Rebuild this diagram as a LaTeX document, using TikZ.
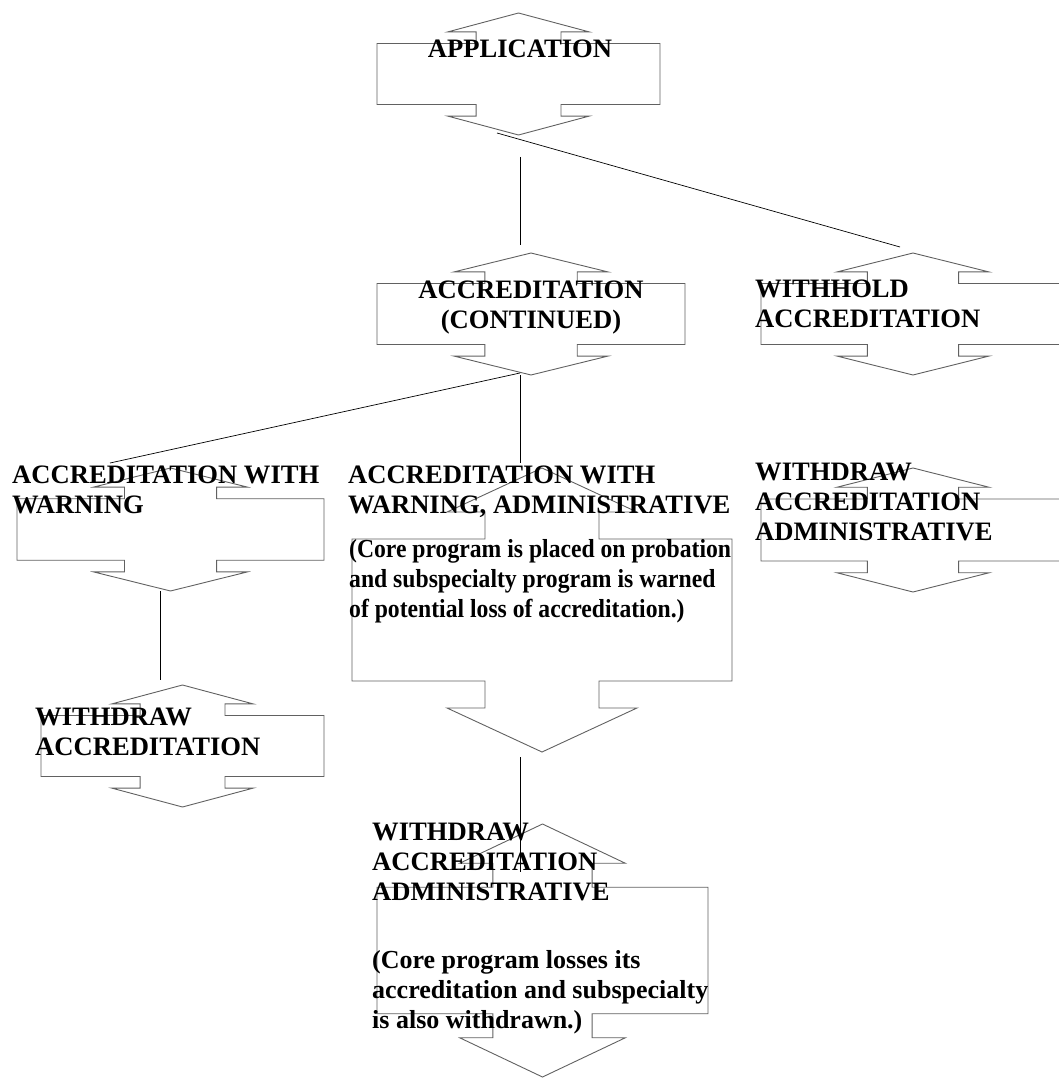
\documentclass[tikz,border=0pt]{standalone}
\usepackage{fontspec}
\setmainfont{Liberation Serif}
\newfontfamily\narrowserif[FakeStretch=0.91]{Liberation Serif}

\begin{document}
\begin{tikzpicture}[x=1pt,y=-1pt]

\definecolor{boxgray}{rgb}{0.38,0.38,0.38}

\tikzset{boxline/.style={draw=boxgray, line width=0.9pt, line join=miter}}
\tikzset{link/.style={draw=black, line width=0.7pt}}
\tikzset{lbl/.style={inner sep=0pt, font=\bfseries\fontsize{26.6}{30}\selectfont}}
\tikzset{note/.style={inner sep=0pt, align=left, font=\bfseries\fontsize{26}{30}\selectfont}}

% up-down arrow box: name, centre x, top y, total height, half width
\def\udbox#1#2#3#4#5{
\draw[boxline] (#2,#3) coordinate (#1-top)
  -- ({#2+0.5*#5},{#3+0.155*#4}) -- ({#2+0.3*#5},{#3+0.155*#4})
  -- ({#2+0.3*#5},{#3+0.25*#4})  -- ({#2+#5},{#3+0.25*#4})
  -- ({#2+#5},{#3+0.75*#4})      -- ({#2+0.3*#5},{#3+0.75*#4})
  -- ({#2+0.3*#5},{#3+0.845*#4}) -- ({#2+0.5*#5},{#3+0.845*#4})
  -- ({#2},{#3+#4}) coordinate (#1-bot)
  -- ({#2-0.5*#5},{#3+0.845*#4}) -- ({#2-0.3*#5},{#3+0.845*#4})
  -- ({#2-0.3*#5},{#3+0.75*#4})  -- ({#2-#5},{#3+0.75*#4})
  -- ({#2-#5},{#3+0.25*#4})      -- ({#2-0.3*#5},{#3+0.25*#4})
  -- ({#2-0.3*#5},{#3+0.155*#4}) -- ({#2-0.5*#5},{#3+0.155*#4})
  -- cycle;
}

\useasboundingbox (0,0) rectangle (1059,1078);

\udbox{app}{518.5}{13}{122}{141.5}
\udbox{cont}{531}{253}{122}{154}
\udbox{hold}{913}{253}{122}{152}
\udbox{warn}{170.5}{468}{123}{153.5}
\udbox{warnadm}{542}{468}{284}{190}
\udbox{wdraw}{182.5}{685}{122}{141.5}
\udbox{wdrawadm}{913}{468}{124}{152}
\udbox{wdrawfin}{542.5}{824}{253}{165.5}

\node[lbl, anchor=base] (app-txt) at (520,58) {APPLICATION};
\node[lbl, anchor=north, align=center] (cont-txt) at (531,281) {ACCREDITATION\\(CONTINUED)};
\node[lbl, anchor=north west, align=left] (hold-txt) at (755,280) {WITHHOLD\\ACCREDITATION};
\node[lbl, anchor=north west, align=left] (warn-txt) at (12,466) {ACCREDITATION WITH\\WARNING};
\node[lbl, anchor=north west, align=left] (warnadm-txt) at (348,466) {ACCREDITATION WITH\\WARNING, ADMINISTRATIVE};
\node[note, font=\narrowserif\bfseries\fontsize{26}{30}\selectfont, anchor=north west] (warnadm-note) at (349,539)
  {(Core program is placed on probation\\and subspecialty program is warned\\of potential loss of accreditation.)};
\node[lbl, anchor=north west, align=left] (wdraw-txt) at (35,708) {WITHDRAW\\ACCREDITATION};
\node[lbl, anchor=north west, align=left] (wdrawadm-txt) at (755,463) {WITHDRAW\\ACCREDITATION\\ADMINISTRATIVE};
\node[lbl, anchor=north west, align=left] (wdrawfin-txt) at (372,823) {WITHDRAW\\ACCREDITATION\\ADMINISTRATIVE};
\node[note, anchor=north west] (wdrawfin-note) at (372,950)
  {(Core program losses its\\accreditation and subspecialty\\is also withdrawn.)};

% connector ends
\coordinate (c1a) at (520,157);  \coordinate (c1b) at (520,245);
\coordinate (c2a) at (497,133);  \coordinate (c2b) at (900,247);
\coordinate (c3a) at (520,373);  \coordinate (c3b) at (110,463);
\coordinate (c4a) at (520,375);  \coordinate (c4b) at (520,463);
\coordinate (c5a) at (160,591);  \coordinate (c5b) at (160,680);
\coordinate (c6a) at (520,757);  \coordinate (c6b) at (520,872);

\draw[link] (c1a) -- (c1b);
\draw[link] (c2a) -- (c2b);
\draw[link] (c3a) -- (c3b);
\draw[link] (c4a) -- (c4b);
\draw[link] (c5a) -- (c5b);
\draw[link] (c6a) -- (c6b);

\end{tikzpicture}
\end{document}
